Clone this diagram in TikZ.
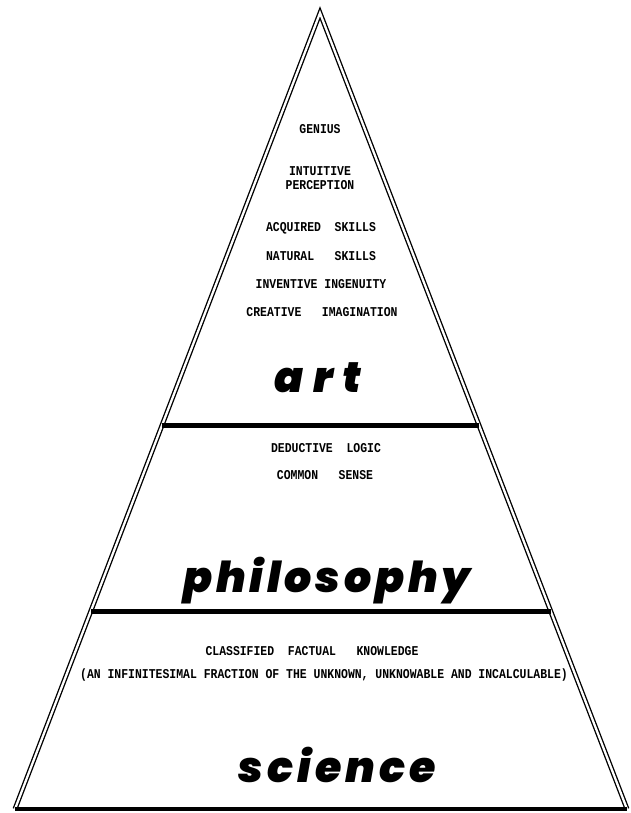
\documentclass[tikz,border=0pt]{standalone}
\usepackage{fontspec}
\newfontfamily\typefont[FakeStretch=0.85]{Liberation Mono}
\newfontfamily\wordfont{Poppins}[BoldItalicFont={Poppins Black Italic}]
\usetikzlibrary{calc}

\tikzset{
  caps/.style={font=\typefont\bfseries\fontsize{10.1}{10.1}\selectfont, inner sep=0pt, align=center},
  tier/.style={font=\wordfont\bfseries\itshape\fontsize{32}{32}\selectfont, inner sep=0pt, anchor=base},
  rim/.style={line width=1pt, double=white, double distance=1.7pt, line join=miter},
  band/.style={line width=3.6pt}
}

\begin{document}
\begin{tikzpicture}[x=0.75pt, y=-0.75pt]
  \useasboundingbox (0,0) rectangle (631,813);

  % pyramid outline
  \coordinate (apex) at (320,13);
  \coordinate (baseL) at (15,809);
  \coordinate (baseR) at (627,809);
  \draw[rim] (baseL) -- (apex) -- (baseR);
  \draw[line width=2.4pt] (baseL) -- (baseR);

  % bars between the tiers
  \coordinate (artL) at ($(apex)!0.518!(baseL)$);
  \coordinate (artR) at ($(apex)!0.518!(baseR)$);
  \coordinate (philL) at ($(apex)!0.752!(baseL)$);
  \coordinate (philR) at ($(apex)!0.752!(baseR)$);
  \draw[band] (artL) -- (artR);
  \draw[band] (philL) -- (philR);

  % art
  \node[caps] (genius) at (320,129) {GENIUS};
  \node[caps] (intuitive) at (320,178) {INTUITIVE\\PERCEPTION};
  \node[caps] (acquired) at (321,228) {ACQUIRED~~SKILLS};
  \node[caps] (natural) at (321,256) {NATURAL~~~SKILLS};
  \node[caps] (inventive) at (321,284) {INVENTIVE~INGENUITY};
  \node[caps] (creative) at (322,312) {CREATIVE~~~IMAGINATION};
  \node[tier] (art) at (318,392) {\addfontfeature{LetterSpace=22}art};

  % philosophy
  \node[caps] (deductive) at (326,448) {DEDUCTIVE~~LOGIC};
  \node[caps] (common) at (325,475) {COMMON~~~SENSE};
  \node[tier] (philosophy) at (327,592) {\addfontfeature{LetterSpace=9}philosophy};

  % science
  \node[caps] (classified) at (312,651) {CLASSIFIED~~FACTUAL~~~KNOWLEDGE};
  \node[caps] (fraction) at (324,675) {(AN INFINITESIMAL FRACTION OF THE UNKNOWN, UNKNOWABLE AND INCALCULABLE)};
  \node[tier] (science) at (337,782) {\addfontfeature{LetterSpace=9.5}science};
\end{tikzpicture}
\end{document}
